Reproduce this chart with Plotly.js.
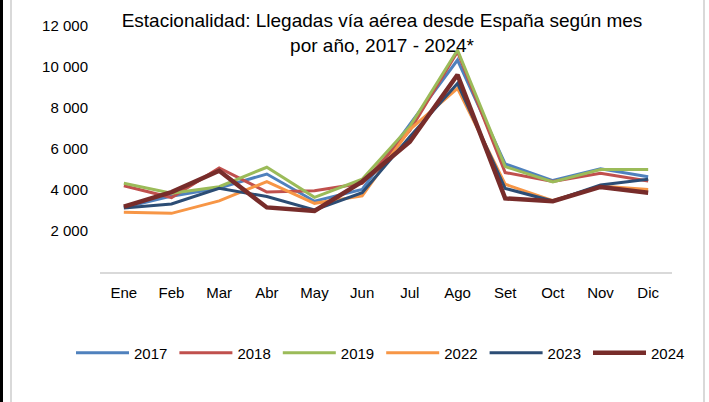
<!DOCTYPE html>
<html>
<head>
<meta charset="utf-8">
<script src="https://cdn.plot.ly/plotly-3.0.1.min.js"></script>
<style>
  html, body { margin: 0; padding: 0; background: #fff; }
  #wrap { position: relative; width: 709px; height: 402px; overflow: hidden; }
  #chart { position: absolute; left: 0; top: 0; width: 709px; height: 402px; }
  .b { position: absolute; top: 0; height: 402px; }
</style>
</head>
<body>
<div id="wrap">
  <div id="chart"></div>
  <div class="b" style="left:0;width:3px;background:#000;"></div>
  <div class="b" style="left:10px;width:2px;background:#d9d9d9;"></div>
  <div class="b" style="left:703px;width:2px;background:#d9d9d9;"></div>
</div>
<script>
const months = ["Ene","Feb","Mar","Abr","May","Jun","Jul","Ago","Set","Oct","Nov","Dic"];
const y2017 = [3150, 3700, 4100, 4780, 3450, 4030, 7200, 10340, 5270, 4460, 5030, 4650];
const y2018 = [4210, 3630, 5080, 3900, 3960, 4330, 6900, 10750, 4850, 4420, 4820, 4440];
const y2019 = [4330, 3840, 4160, 5110, 3640, 4530, 7100, 10830, 5140, 4390, 5000, 5000];
const y2022 = [2910, 2860, 3470, 4410, 3350, 3710, 6950, 8960, 4280, 3480, 4200, 4030];
const y2023 = [3120, 3320, 4080, 3680, 3030, 3870, 6600, 9200, 4080, 3460, 4240, 4520];
const y2024 = [3190, 3900, 4940, 3150, 2980, 4410, 6350, 9620, 3590, 3450, 4150, 3870];
const tickVals = [2000, 4000, 6000, 8000, 10000, 12000];

const series = [
  {name: "2017", y: y2017, color: "#4f81bd", w: 3},
  {name: "2018", y: y2018, color: "#c0504d", w: 3},
  {name: "2019", y: y2019, color: "#9bbb59", w: 3},
  {name: "2022", y: y2022, color: "#f79646", w: 3},
  {name: "2023", y: y2023, color: "#2c4d75", w: 3},
  {name: "2024", y: y2024, color: "#772c2a", w: 4.5}
];

const FONT = "Liberation Sans, Arial, sans-serif";

const traces = series.map((s, i) => ({
  type: "scatter",
  mode: "lines",
  name: s.name,
  x: months,
  y: s.y,
  legend: i === 0 ? "legend" : "legend" + (i + 1),
  line: {color: s.color, width: s.w}
}));

const layout = {
  width: 709,
  height: 402,
  paper_bgcolor: "rgba(0,0,0,0)",
  plot_bgcolor: "rgba(0,0,0,0)",
  separators: ", ",
  margin: {l: 100, r: 37, t: 26, b: 130, pad: 0},
  font: {family: FONT, size: 15, color: "#000"},
  title: {
    text: "Estacionalidad: Llegadas vía aérea desde España según mes<br>por año, 2017 - 2024*",
    font: {family: FONT, size: 19, color: "#000"},
    xref: "container", x: 382/709, xanchor: "center",
    yref: "container", y: 1 - 27/402, yanchor: "top"
  },
  xaxis: {
    type: "category",
    range: [-0.5, 11.5],
    showgrid: false,
    zeroline: false,
    showline: true,
    linecolor: "#d9d9d9",
    linewidth: 2,
    ticks: "outside",
    ticklen: 6,
    tickcolor: "rgba(0,0,0,0)",
    tickfont: {family: FONT, size: 15, color: "#000"},
    fixedrange: true
  },
  yaxis: {
    range: [0, 12000],
    tickvals: tickVals,
    tickformat: ",d",
    showgrid: false,
    zeroline: false,
    showline: false,
    ticks: "outside",
    ticklen: 8,
    tickcolor: "rgba(0,0,0,0)",
    tickfont: {family: FONT, size: 15, color: "#000"},
    fixedrange: true
  },
  showlegend: true
};

series.forEach((s, i) => {
  const key = i === 0 ? "legend" : "legend" + (i + 1);
  layout[key] = {
    orientation: "h",
    xref: "container", x: (71 + i * 103.4) / 709, xanchor: "left",
    yref: "container", y: 1 - 353/402, yanchor: "middle",
    itemwidth: 53,
    font: {family: FONT, size: 15, color: "#000"},
    bgcolor: "rgba(0,0,0,0)",
    itemclick: false,
    itemdoubleclick: false
  };
});

Plotly.newPlot("chart", traces, layout, {displayModeBar: false, staticPlot: true});
</script>
</body>
</html>
